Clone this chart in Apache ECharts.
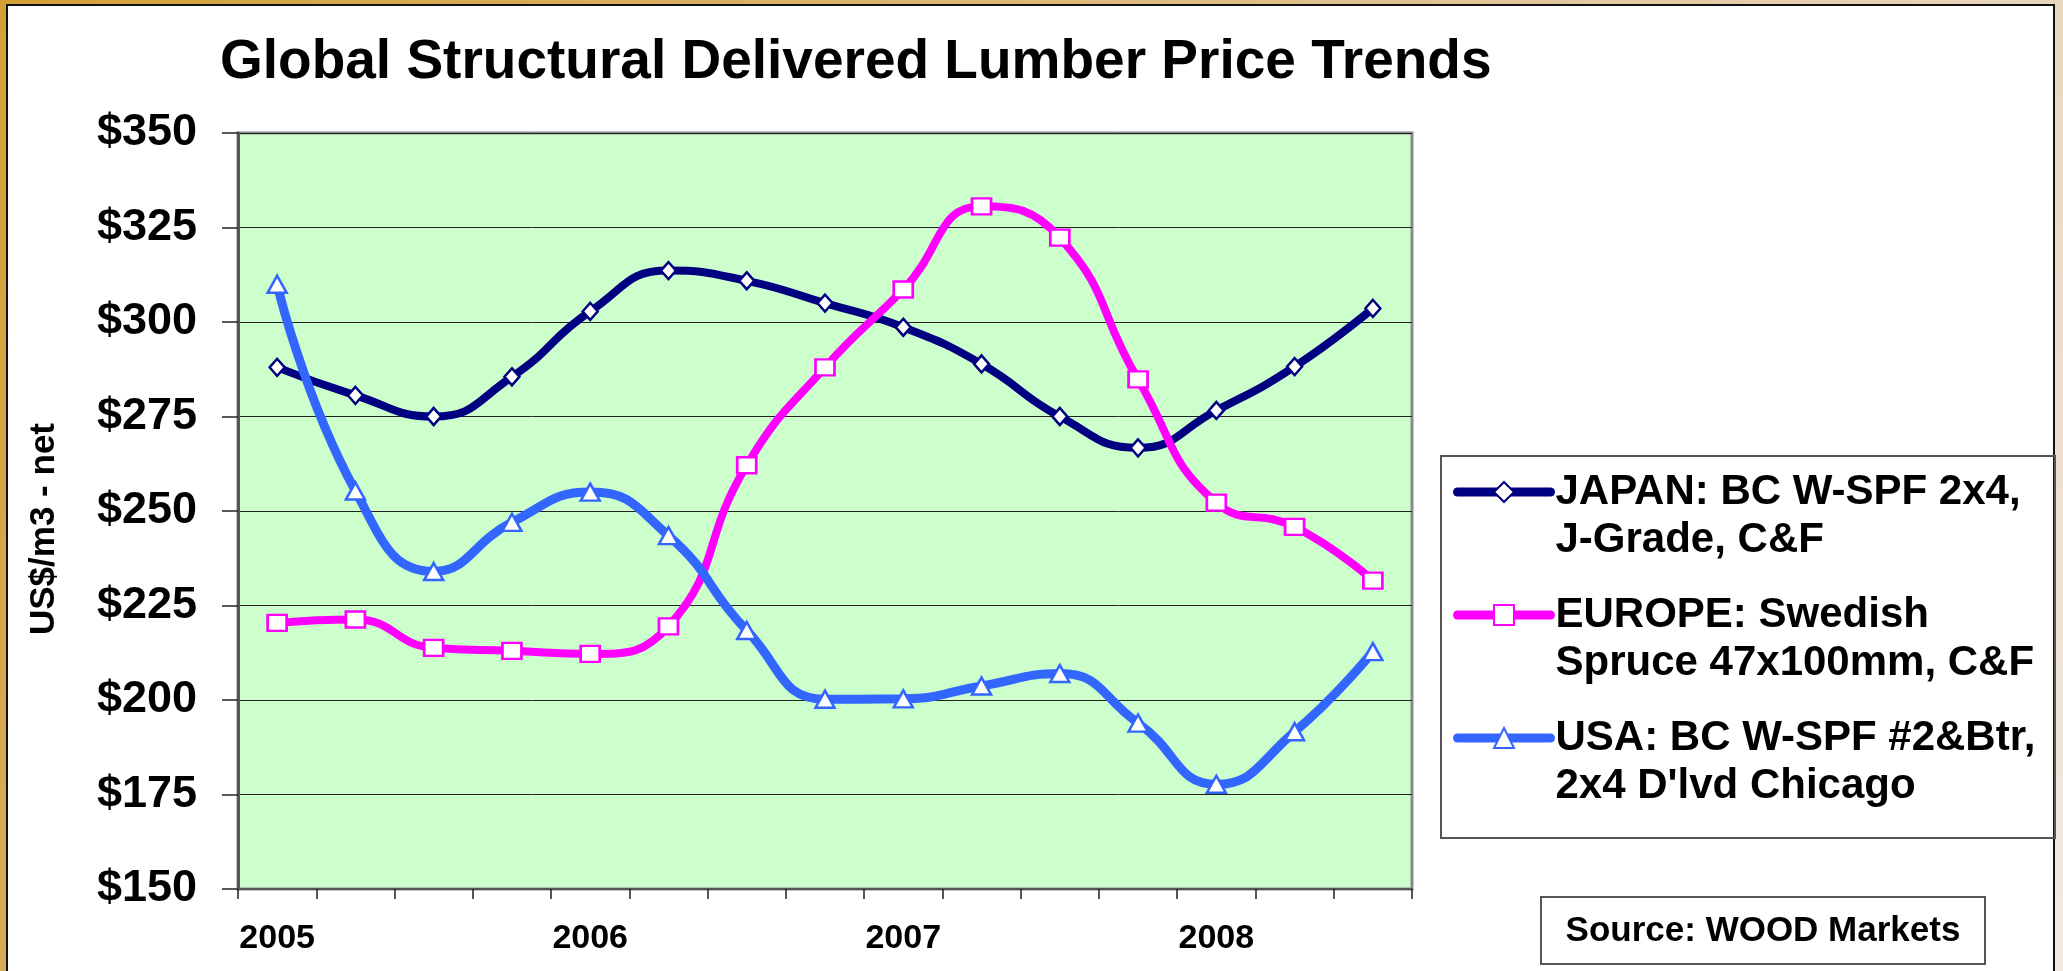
<!DOCTYPE html>
<html>
<head>
<meta charset="utf-8">
<title>Global Structural Delivered Lumber Price Trends</title>
<script src="https://cdn.jsdelivr.net/npm/echarts@6/dist/echarts.min.js"></script>
<style>
  html, body { margin: 0; padding: 0; width: 2063px; height: 971px; overflow: hidden; }
  body { position: relative; background: linear-gradient(120deg, #d2a035 0%, #dbb46e 35%, #e6cfb0 70%, #f3e9e2 100%); }
  #panel { position: absolute; left: 6px; top: 4px; width: 2045px; height: 1000px; background: #fff; border: 2px solid #111; }
  #main { position: absolute; left: 0; top: 0; width: 2063px; height: 971px; }
</style>
</head>
<body>
<div id="panel"></div>
<div id="main"></div>
<script>
// quarterly points, 2005 Q1 .. 2008 Q3
var quarters = ['2005 Q1', '2005 Q2', '2005 Q3', '2005 Q4',
                '2006 Q1', '2006 Q2', '2006 Q3', '2006 Q4',
                '2007 Q1', '2007 Q2', '2007 Q3', '2007 Q4',
                '2008 Q1', '2008 Q2', '2008 Q3'];

var japan  = [288, 280.6, 275, 285.5, 302.8, 313.6, 310.9, 305, 298.6, 288.9, 275, 266.7, 276.6, 288.2, 303.6];
var europe = [220.4, 221.3, 213.8, 213, 212.2, 219.5, 262.1, 288, 308.6, 330.6, 322.3, 284.8, 252.2, 245.8, 231.6];
var usa    = [310, 255.3, 234, 247, 255, 243.5, 218.4, 200.2, 200.3, 203.7, 207, 193.9, 177.7, 191.6, 212.8];

var seriesNames = ['JAPAN: BC W-SPF 2x4,\nJ-Grade, C&F',
                   'EUROPE: Swedish\nSpruce 47x100mm, C&F',
                   'USA: BC W-SPF #2&Btr,\n2x4 D\'lvd Chicago'];
var seriesColors = ['#000080', '#FF00FF', '#3366FF'];

var yMin = 150, yMax = 350, yStep = 25;

var font = '"Liberation Sans", Arial, sans-serif';

var myChart = echarts.init(document.getElementById('main'));

var option = {
    animation: false,
    backgroundColor: 'transparent',
    grid: {
        left: 238,
        top: 133,
        right: 651,
        bottom: 82,
        show: true,
        backgroundColor: '#CCFFCC',
        borderColor: '#8a8a8a',
        borderWidth: 3
    },
    xAxis: {
        type: 'category',
        data: quarters,
        boundaryGap: true,
        axisLine: { lineStyle: { color: '#555', width: 2 } },
        axisTick: { show: true, interval: 0, length: 10, lineStyle: { color: '#222', width: 1.5 } },
        axisLabel: {
            interval: 3,
            margin: 33,
            formatter: function (v) { return v.slice(0, 4); },
            color: '#000',
            fontFamily: font,
            fontWeight: 'bold',
            fontSize: 34
        },
        splitLine: { show: false }
    },
    yAxis: {
        type: 'value',
        min: yMin,
        max: yMax,
        interval: yStep,
        axisLine: { show: true, lineStyle: { color: '#555', width: 3 } },
        axisTick: { show: true, length: 16, lineStyle: { color: '#222', width: 1.5 } },
        axisLabel: {
            margin: 41,
            formatter: '${value}',
            color: '#000',
            fontFamily: font,
            fontWeight: 'bold',
            fontSize: 45
        },
        splitLine: { show: true, lineStyle: { color: '#222', width: 1 } }
    },
    legend: {
        orient: 'vertical',
        left: 1453,
        top: 420,
        padding: 0,
        itemGap: -21,
        itemWidth: 93,
        itemHeight: 25,
        selectedMode: false,
        textStyle: { fontFamily: font, fontWeight: 'bold', fontSize: 42, lineHeight: 48, color: '#000' },
        // blank first line so the icon sits beside the first text line
        formatter: function (name) { return '\n' + name; },
        data: seriesNames.map(function (n, i) {
            return { name: n, lineStyle: { color: seriesColors[i], width: 9, cap: 'round' } };
        })
    },
    graphic: [
        {
            type: 'text', x: 220, y: 63,
            style: { text: 'Global Structural Delivered Lumber Price Trends', fill: '#000',
                     fontFamily: font, fontWeight: 'bold', fontSize: 55,
                     align: 'left', verticalAlign: 'middle' }
        },
        {
            type: 'text', x: 44, y: 529, rotation: Math.PI / 2,
            style: { text: 'US$/m3 - net', fill: '#000',
                     fontFamily: font, fontWeight: 'bold', fontSize: 35,
                     align: 'center', verticalAlign: 'middle' }
        },
        {
            type: 'rect',
            shape: { x: 1441, y: 456, width: 614, height: 382 },
            style: { fill: null, stroke: '#555', lineWidth: 2 }
        },
        {
            type: 'rect',
            shape: { x: 1541, y: 897, width: 444, height: 67 },
            style: { fill: '#fff', stroke: '#555', lineWidth: 2 }
        },
        {
            type: 'text', x: 1763, y: 931,
            style: { text: 'Source: WOOD Markets', fill: '#000',
                     fontFamily: font, fontWeight: 'bold', fontSize: 35,
                     align: 'center', verticalAlign: 'middle' }
        }
    ],
    series: [
        {
            name: seriesNames[0],
            type: 'line',
            data: japan,
            smooth: 0.5,
            symbol: 'diamond',
            symbolSize: [15, 17],
            lineStyle: { color: seriesColors[0], width: 8 },
            itemStyle: { color: '#fff', borderColor: seriesColors[0], borderWidth: 2.5 }
        },
        {
            name: seriesNames[1],
            type: 'line',
            data: europe,
            smooth: 0.5,
            symbol: 'rect',
            symbolSize: [19, 16],
            lineStyle: { color: seriesColors[1], width: 8 },
            itemStyle: { color: '#fff', borderColor: seriesColors[1], borderWidth: 2.5 }
        },
        {
            name: seriesNames[2],
            type: 'line',
            data: usa,
            smooth: 0.5,
            symbol: 'triangle',
            symbolSize: [19, 17],
            lineStyle: { color: seriesColors[2], width: 9 },
            itemStyle: { color: '#fff', borderColor: seriesColors[2], borderWidth: 2.5 }
        }
    ]
};

myChart.setOption(option);
</script>
</body>
</html>
